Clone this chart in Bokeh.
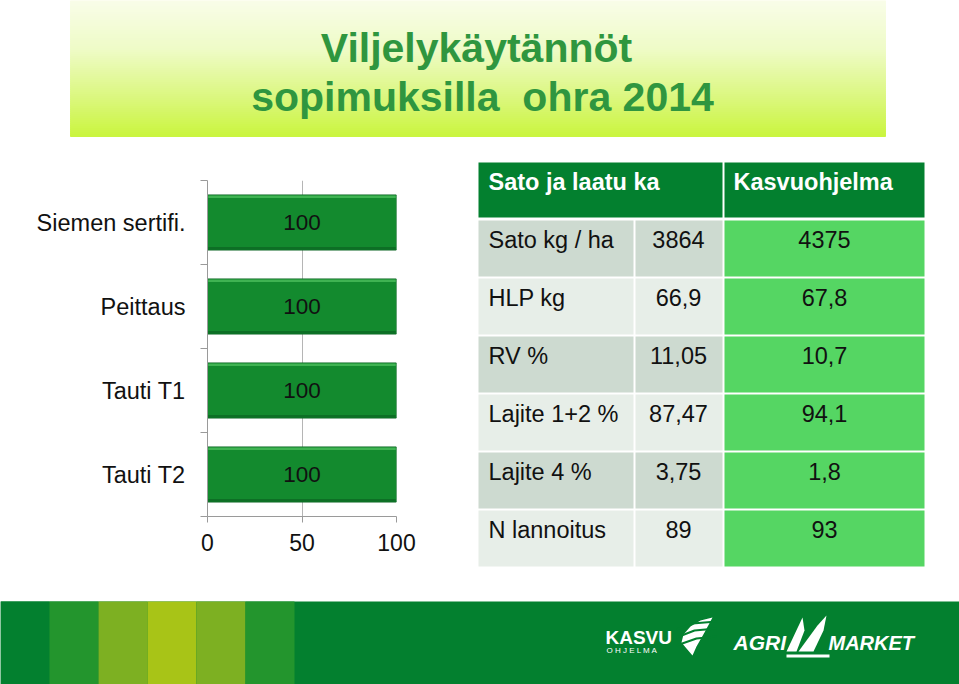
import numpy as np
from bokeh.plotting import figure
from bokeh.layouts import column, row
from bokeh.models import Range1d, FixedTicker
from bokeh.core.properties import value
from bokeh.embed import file_html
from bokeh.resources import INLINE

# ---------------- data ----------------
title_lines = ["Viljelykäytännöt", "sopimuksilla\u00a0 ohra 2014"]
practices = ["Siemen sertifi.", "Peittaus", "Tauti T1", "Tauti T2"]
practice_values = [100, 100, 100, 100]
x_ticks = [0, 50, 100]

table_header = ["Sato ja laatu ka", "Kasvuohjelma"]
table_rows = ["Sato kg / ha", "HLP kg", "RV %", "Lajite 1+2 %", "Lajite 4 %", "N lannoitus"]
values_avg = ["3864", "66,9", "11,05", "87,47", "3,75", "89"]
values_kasvu = ["4375", "67,8", "10,7", "94,1", "1,8", "93"]

FONT = value("Liberation Sans")
W = 959


def blank(width, height, x0, x1, y0, y1):
    p = figure(width=width, height=height, x_range=Range1d(x0, x1),
               y_range=Range1d(y1, y0), output_backend="svg",
               toolbar_location=None, min_border=0,
               x_axis_location=None, y_axis_location=None)
    p.grid.visible = False
    p.outline_line_color = None
    p.background_fill_color = "white"
    p.border_fill_color = "white"
    return p


# ---------------- title ----------------
t = blank(W, 155, 0, W, 0, 155)
stops_y = [0, 50, 100, 136]
stops_c = [(249, 253, 233), (238, 251, 198), (218, 247, 122), (202, 245, 62)]
edges = np.linspace(0, 136, 69)
cols = []
for a, b in zip(edges[:-1], edges[1:]):
    m = (a + b) / 2
    rgb = [int(round(np.interp(m, stops_y, [c[k] for c in stops_c]))) for k in range(3)]
    cols.append("#%02x%02x%02x" % tuple(rgb))
t.quad(left=70, right=885, top=edges[:-1], bottom=edges[1:], fill_color=cols, line_color=cols)
t.text(x=[476, 482], y=[47, 96], text=title_lines, text_font=FONT, text_font_style="bold",
       text_font_size="41px", text_color="#2f963f", text_align="center", text_baseline="middle")

# ---------------- bar chart ----------------
n = len(practices)
centers = [i + 0.5 for i in range(n)]
bounds = [float(i) for i in range(n + 1)]
bp = figure(width=470, height=435, x_range=Range1d(0, 100), y_range=Range1d(n, 0),
            output_backend="svg", toolbar_location=None,
            min_border_left=207, min_border_right=74, min_border_top=25, min_border_bottom=74)
bp.outline_line_color = None
bp.background_fill_color = "white"
bp.border_fill_color = "white"
bp.ygrid.grid_line_color = None
bp.xgrid.ticker = FixedTicker(ticks=x_ticks)
bp.xgrid.grid_line_color = "#b5b5b5"

bh = 0.655
vals = np.array(practice_values, dtype=float)
bp.hbar(y=centers, left=0, right=vals, height=bh, fill_color="#138a2e", line_color="#0b6522", line_width=1)
bp.hbar(y=[c - bh / 2 + 0.02 for c in centers], left=0.4, right=vals - 0.4, height=0.03,
        fill_color="#3fb352", line_color=None)
bp.hbar(y=[c + bh / 2 - 0.02 for c in centers], left=0.4, right=vals - 0.4, height=0.03,
        fill_color="#0d6f25", line_color=None)
bp.text(x=vals / 2, y=centers, text=[str(int(v)) for v in practice_values], text_font=FONT,
        text_font_size="22.5px", text_color="#111111", text_align="center", text_baseline="middle")

bp.yaxis.ticker = FixedTicker(ticks=centers, minor_ticks=bounds)
bp.yaxis.major_label_overrides = {c: lab for c, lab in zip(centers, practices)}
bp.yaxis.major_tick_out = 0
bp.yaxis.major_tick_in = 0
bp.yaxis.minor_tick_out = 7
bp.yaxis.minor_tick_in = 0
bp.yaxis.minor_tick_line_color = "#9a9a9a"
bp.yaxis.axis_line_color = "#9a9a9a"
bp.yaxis.major_label_standoff = 15
bp.yaxis.major_label_text_font = "Liberation Sans"
bp.yaxis.major_label_text_font_size = "23.5px"
bp.yaxis.major_label_text_color = "#111111"

bp.xaxis.ticker = FixedTicker(ticks=x_ticks, minor_ticks=[])
bp.xaxis.major_tick_out = 6
bp.xaxis.major_tick_in = 0
bp.xaxis.major_tick_line_color = "#9a9a9a"
bp.xaxis.axis_line_color = "#9a9a9a"
bp.xaxis.major_label_standoff = 11
bp.xaxis.major_label_text_font = "Liberation Sans"
bp.xaxis.major_label_text_font_size = "23px"
bp.xaxis.major_label_text_color = "#111111"

# ---------------- table ----------------
tb = blank(489, 435, 470, W, 155, 590)
tb.quad(left=[478, 724], right=[722, 924], top=[162, 162], bottom=[217, 217],
        fill_color="#03802f", line_color=None)
tb.text(x=[488, 733], y=[181, 181], text=table_header, text_font=FONT, text_font_style="bold",
        text_font_size="23.5px", text_color="white", text_align="left", text_baseline="middle")
nr = len(table_rows)
tops = [220 + 58 * i for i in range(nr)]
bots = [tp + 56 for tp in tops]
row_cols = ["#cddad0" if i % 2 == 0 else "#e7eee8" for i in range(nr)]
tb.quad(left=478, right=633, top=tops, bottom=bots, fill_color=row_cols, line_color=None)
tb.quad(left=635, right=722, top=tops, bottom=bots, fill_color=row_cols, line_color=None)
tb.quad(left=724, right=924, top=tops, bottom=bots, fill_color="#55d663", line_color=None)
ty = [tp + 19 for tp in tops]
tb.text(x=488, y=ty, text=table_rows, text_font=FONT, text_font_size="23.5px",
        text_color="#111111", text_align="left", text_baseline="middle")
tb.text(x=678, y=ty, text=values_avg, text_font=FONT, text_font_size="23.5px",
        text_color="#111111", text_align="center", text_baseline="middle")
tb.text(x=824, y=ty, text=values_kasvu, text_font=FONT, text_font_size="23.5px",
        text_color="#111111", text_align="center", text_baseline="middle")

# ---------------- footer ----------------
ft = blank(W, 94, 0, W, 590, 684)
ft.quad(left=0, right=W, top=601, bottom=684, fill_color="#03802f", line_color=None)
stripe_cols = ["#03802f", "#23952d", "#7db022", "#a8c417", "#7db022", "#23952d"]
ft.quad(left=[49 * i for i in range(6)], right=[49 * (i + 1) for i in range(6)], top=601, bottom=684,
        fill_color=stripe_cols, line_color=None)
# KASVU OHJELMA logo
ft.text(x=[605], y=[637], text=["KASVU"], text_font=FONT, text_font_style="bold",
        text_font_size="19px", text_color="white", text_align="left", text_baseline="middle")
ft.text(x=[606], y=[650], text=["O H J E L M A"], text_font=FONT,
        text_font_size="8px", text_color="white", text_align="left", text_baseline="middle")
ft.patch(x=[712, 700, 690, 683, 681, 686, 692, 696, 704],
         y=[617, 620, 626, 634, 642, 648, 655, 646, 632],
         fill_color="white", line_color=None)
ft.multi_line(xs=[[676, 692, 716], [676, 694, 716], [676, 696, 716]],
              ys=[[629, 623, 621], [637, 630, 628], [645, 638, 636]],
              line_color="#03802f", line_width=2)
# AGRI MARKET logo
ft.text(x=[733], y=[642], text=["AGRI"], text_font=FONT, text_font_style="bold italic",
        text_font_size="21px", text_color="white", text_align="left", text_baseline="middle")
ft.text(x=[828], y=[642], text=["MARKET"], text_font=FONT, text_font_style="bold italic",
        text_font_size="20px", text_color="white", text_align="left", text_baseline="middle")
ft.patch(x=[786, 796, 804, 802], y=[651, 651, 630, 617], fill_color="white", line_color=None)
ft.patch(x=[798, 813, 823, 826, 817], y=[651, 651, 630, 615, 625], fill_color="white", line_color=None)
ft.quad(left=786, right=829, top=654, bottom=657, fill_color="white", line_color=None)

layout = column(t, row(column(bp), column(tb)), ft)
open("out.html", "w").write(file_html(layout, INLINE))
